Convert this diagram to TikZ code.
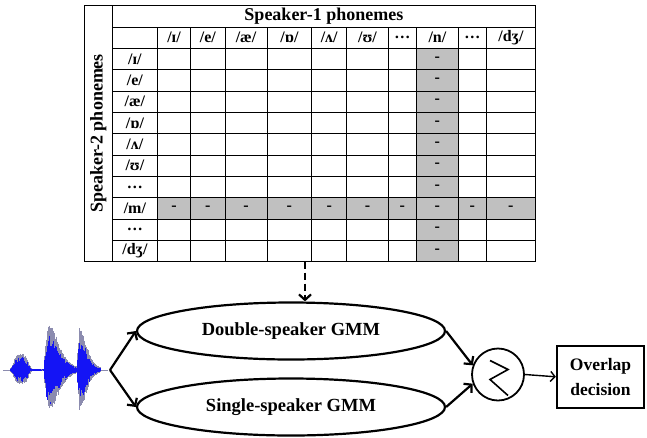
\documentclass[tikz,border=0pt]{standalone}
\usepackage{fontspec}
\setmainfont{Liberation Serif}
\usetikzlibrary{positioning, arrows.meta, shapes.geometric}
\definecolor{cellgrey}{RGB}{192,192,192}
\definecolor{wavegrey}{RGB}{140,140,175}
\definecolor{waveblue}{RGB}{20,20,245}
\newcommand{\phon}[1]{/#1/}
\tikzset{
grid line/.style={line width=0.9pt}, % rules of the phoneme table
cell/.style={inner sep=0pt, font=\fontsize{16}{16}\selectfont\bfseries}, % phoneme labels and dashes
headline/.style={inner sep=0pt, font=\fontsize{18}{18}\selectfont\bfseries}, % table titles
gmm/.style={ellipse, draw, line width=2.2pt, minimum width=308pt, minimum height=57pt, inner sep=0pt, font=\fontsize{18.5}{18.5}\selectfont\bfseries}, % the two models
flow/.style={-{Straight Barb[length=5.5pt, width=12pt]}, line width=2.2pt}, % thick arrows
thin flow/.style={-{Straight Barb[length=4.5pt, width=10pt]}, line width=1.4pt}, % arrow to the decision
}

\begin{document}
\begin{tikzpicture}[x=1pt, y=-1pt]
\useasboundingbox (0,0) rectangle (647,437);

% shaded column /n/ and row /m/
\fill[cellgrey] (416.5,48.3) rectangle (458.3,261.7);
\fill[cellgrey] (157.5,197.68) rectangle (535.5,219.02);

% table rules
\draw[grid line] (84.3,5) rectangle (535.5,261.7);
\draw[grid line] (112.3,5) -- (112.3,261.7);
\foreach \ry in {27.3,48.3,69.64,90.98,112.32,133.66,155,176.34,197.68,219.02,240.36}
  \draw[grid line] (112.3,\ry) -- (535.5,\ry);
\foreach \cx in {157.5,190.5,225,267,311.7,346.7,388.3,416.5,458.3,486.3}
  \draw[grid line] (\cx,27.3) -- (\cx,261.7);

% titles
\node[headline] (spk1) at (323.9,16.3) {Speaker-1 phonemes};
\node[headline, rotate=90] (spk2) at (98.3,133.4) {Speaker-2 phonemes};

% column heads
\foreach \cx/\lab [count=\i] in {174/\phon{ɪ}, 207.8/\phon{e}, 246/\phon{æ}, 289.4/\phon{ɒ}, 329.2/\phon{ʌ}, 367.5/\phon{ʊ}, 402.4/…, 437.4/\phon{n}, 472.3/…, 510.9/\phon{dʒ}}
  \node[cell] (col\i) at (\cx,37.8) {\lab};

% row heads
\foreach \lab [count=\j] in {\phon{ɪ}, \phon{e}, \phon{æ}, \phon{ɒ}, \phon{ʌ}, \phon{ʊ}, …, \phon{m}, …, \phon{dʒ}}
  \node[cell] (row\j) at (134.9,{48.3+21.34*(\j-0.5)}) {\lab};

% dashes in the shaded cells
\foreach \j in {1,...,10}
  \node[cell] (n\j) at (437.4,{48.3+21.34*(\j-0.5)}) {-};
\foreach \cx [count=\i] in {174,207.8,246,289.4,329.2,367.5,402.4,472.3,510.9}
  \node[cell] (m\i) at (\cx,208.35) {-};

% speech signal
\draw[wavegrey, line width=0.5pt] (3,370) -- (108,370);
\draw[wavegrey, line width=0.5pt] (79,328) -- (79,410);
\pgfmathsetseed{11}
\foreach \wx in {10,10.4,...,100}{
  \pgfmathsetmacro{\ta}{(\wx-21)*(\wx-21)/64}
  \pgfmathsetmacro{\mb}{max(\wx-44,0)/6}
  \pgfmathsetmacro{\mc}{max(\wx-77,0)/4}
  \pgfmathsetmacro{\env}{15*exp(-min(\ta*\ta,20)) + 44*\mb*exp(1-min(\mb,12)) + 38*\mc*exp(1-min(\mc,12)) + 1}
  \pgfmathsetmacro{\up}{\env*(0.82+0.18*rnd)}
  \pgfmathsetmacro{\dn}{\env*(0.72+0.18*rnd)}
  \draw[wavegrey, line width=0.7pt] (\wx,370-\up) -- (\wx,370+\dn);
  \pgfmathsetmacro{\bu}{\env*(0.5+0.3*rnd)}
  \pgfmathsetmacro{\bd}{\env*(0.45+0.3*rnd)}
  \draw[waveblue, line width=0.7pt] (\wx,370-\bu) -- (\wx,370+\bd);
}
\coordinate (fork) at (110,370);

% models
\node[gmm] (double) at (291,331) {Double-speaker GMM};
\node[gmm] (single) at (291,407) {Single-speaker GMM};
\coordinate (tabfoot) at (305,261.7);
\draw[flow, dash pattern=on 7pt off 4pt] (tabfoot) -- (tabfoot |- double.north);
\draw[flow] (fork) -- (double.west);
\draw[flow] (fork) -- (single.west);

% comparison and decision
\node[circle, draw, line width=1.8pt, minimum size=52pt, inner sep=0pt] (cmp) at (498,374.5) {};
\draw[line width=1.6pt] ([shift={(-8,-14)}]cmp.center) -- ++(18,9) -- ++(-18,10) -- ++(18,16);
\node[draw, line width=2.2pt, minimum width=87pt, minimum height=62pt, align=center, font=\fontsize{17.5}{25}\selectfont\bfseries] (decision) at (600.5,376.8) {Overlap\\decision};
\draw[flow] (double.east) -- (cmp.160);
\draw[flow] (single.east) -- (cmp.200);
\draw[thin flow] (cmp.east) -- (decision.west);
\end{tikzpicture}
\end{document}
